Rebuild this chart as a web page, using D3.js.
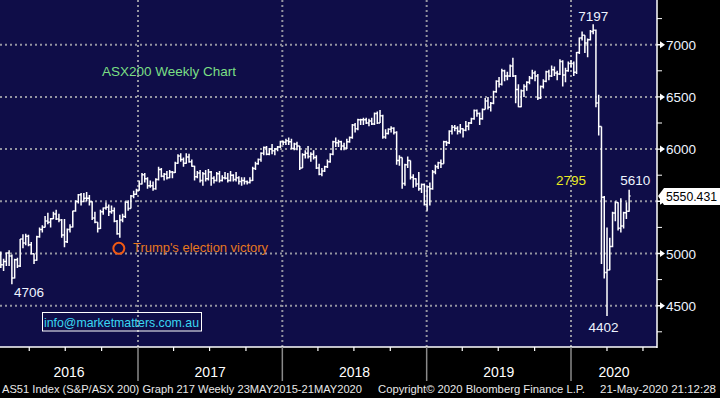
<!DOCTYPE html>
<html>
<head>
<meta charset="utf-8">
<script src="https://cdn.jsdelivr.net/npm/d3@7"></script>
<style>
body{margin:0;background:#000;}
svg{display:block;}
text{font-family:"Liberation Sans",Arial,sans-serif;}
</style>
</head>
<body>
<svg id="chart" width="720" height="398"></svg>
<script>
// weekly bars of AS51, week ending Fri 15 Jan 2016 .. Thu 21 May 2020
var firstWeek = new Date(Date.UTC(2016,0,15));
var lastWeek = new Date(Date.UTC(2020,4,22));

var opens = [
 4990,4892,4923,5005,4977,4765,4940,4880,5138,5101,5165,5085,4998,4935,5160,5231,5252,5311,5300,5332,5378,5331,5320,5177,5113,5230,5255,5407,5498,5562,5497,5530,5529,5496,5340,5300,5240,5400,5435,5444,5400,5410,5310,5190,5320,5354,5490,5432,5550,5567,5606,
 5665,5755,5715,5650,5650,5620,5710,5805,5740,5760,5725,5780,5775,5865,5935,5900,5865,5925,5880,5835,5735,5770,5700,5765,5715,5780,5720,5700,5765,5700,5725,5720,5700,5750,5710,5725,5690,5700,5690,5680,5700,5815,5860,5900,5960,6015,5950,6000,5985,6000,6020,6070,
 6065,6080,6070,6005,6050,6030,5820,5945,5960,5930,5950,5920,5820,5760,5790,5830,5880,5950,6070,6060,6070,6030,6010,6070,6110,6230,6195,6280,6280,6280,6250,6270,6240,6340,6250,6320,6115,6150,6190,6200,6160,5890,5920,5670,5850,5890,5730,5715,5665,5620,5660,5470,
 5640,5620,5780,5830,5870,5860,6070,6060,6170,6210,6200,6170,6195,6180,6220,6250,6290,6370,6340,6290,6380,6460,6400,6440,6550,6650,6620,6750,6700,6700,6795,6700,6570,6405,6560,6600,6640,6680,6730,6700,6490,6600,6650,6740,6700,6760,6730,6720,6840,6710,6750,6820,
 6820,6735,6925,7065,7090,7017,7048,7126,7139,6441,6217,5539,4817,4842,5068,5387,5488,5242,5264,5391,5405
];
var highs = [
 5020,4950,5010,5030,4990,4950,4960,5140,5185,5190,5180,5110,5000,5170,5250,5270,5360,5390,5340,5400,5420,5380,5330,5330,5240,5280,5410,5510,5570,5580,5580,5590,5560,5500,5400,5300,5420,5440,5490,5470,5460,5440,5320,5370,5380,5500,5510,5560,5600,5620,5700,
 5770,5770,5730,5700,5690,5720,5830,5820,5770,5790,5800,5790,5880,5950,5960,5920,5960,5955,5900,5840,5790,5800,5780,5800,5810,5790,5740,5780,5790,5750,5780,5770,5790,5760,5780,5740,5730,5730,5700,5730,5830,5880,5910,5970,6025,6030,6010,6050,6010,6030,6080,6080,
 6100,6110,6100,6060,6070,6030,5960,5990,6030,5970,5990,5940,5860,5820,5840,5900,5960,6080,6110,6090,6080,6060,6100,6120,6240,6250,6290,6290,6300,6300,6290,6300,6350,6360,6374,6330,6190,6200,6220,6210,6170,5940,5920,5860,5930,5890,5760,5720,5780,5670,5670,5650,
 5680,5800,5850,5880,5900,6080,6080,6180,6230,6230,6220,6240,6200,6270,6260,6300,6380,6380,6350,6390,6490,6500,6450,6560,6660,6690,6770,6760,6740,6810,6875,6710,6620,6570,6620,6650,6700,6760,6750,6720,6610,6670,6750,6760,6800,6790,6750,6860,6850,6780,6840,6850,
 6840,6930,7070,7127,7090,7060,7140,7197,7145,6520,6217,5550,5250,5150,5400,5500,5490,5530,5400,5490,5610
];
var lows = [
 4860,4832,4880,4880,4706,4760,4860,4870,5050,5080,5070,4990,4900,4930,5150,5200,5250,5280,5250,5330,5320,5300,5150,5060,5100,5200,5250,5400,5480,5460,5490,5500,5460,5320,5290,5200,5235,5370,5420,5360,5380,5300,5180,5150,5300,5340,5410,5430,5530,5560,5600,
 5660,5680,5620,5630,5600,5610,5700,5730,5700,5710,5720,5720,5770,5860,5880,5830,5860,5870,5830,5700,5720,5680,5650,5690,5700,5650,5670,5690,5680,5690,5710,5680,5690,5690,5690,5660,5650,5660,5660,5670,5695,5800,5850,5880,5940,5940,5940,5950,5940,5980,6010,6040,
 6040,6040,6000,5990,5990,5800,5820,5910,5910,5880,5900,5810,5750,5740,5780,5820,5870,5940,6020,6020,5990,5990,6000,6060,6100,6160,6180,6230,6230,6240,6220,6230,6230,6240,6250,6100,6100,6140,6160,6140,5850,5840,5620,5650,5820,5710,5630,5640,5600,5580,5460,5410,
 5460,5610,5760,5810,5820,5860,6030,6050,6140,6170,6140,6150,6110,6170,6180,6240,6280,6310,6230,6280,6380,6380,6360,6430,6540,6590,6610,6650,6660,6690,6690,6440,6400,6400,6500,6560,6620,6670,6650,6470,6480,6580,6640,6660,6690,6700,6660,6710,6600,6640,6740,6780,
 6700,6720,6910,7040,6920,6880,7040,7100,6400,6130,4900,4760,4402,4840,5060,5310,5220,5200,5240,5330,5400
];
var closes = [
 4892,4923,5005,4977,4765,4940,4880,5138,5101,5165,5085,4998,4935,5160,5231,5252,5311,5300,5332,5378,5331,5320,5177,5113,5230,5255,5407,5498,5562,5497,5530,5529,5496,5340,5300,5240,5400,5435,5444,5400,5410,5310,5190,5320,5354,5490,5432,5550,5567,5606,5665,
 5755,5715,5650,5650,5620,5710,5805,5740,5760,5725,5780,5775,5865,5935,5900,5865,5925,5880,5835,5735,5770,5700,5765,5715,5780,5720,5700,5765,5700,5725,5720,5700,5750,5710,5725,5690,5700,5690,5680,5700,5815,5860,5900,5960,6015,5950,6000,5985,6000,6020,6070,6065,
 6080,6070,6005,6050,6030,5820,5945,5960,5930,5950,5920,5820,5760,5790,5830,5880,5950,6070,6060,6070,6030,6010,6070,6110,6230,6195,6280,6280,6280,6250,6270,6240,6340,6250,6320,6115,6150,6190,6200,6160,5890,5920,5670,5850,5890,5730,5715,5665,5620,5660,5470,5640,
 5620,5780,5830,5870,5860,6070,6060,6170,6210,6200,6170,6195,6180,6220,6250,6290,6370,6340,6290,6380,6460,6400,6440,6550,6650,6620,6750,6700,6700,6795,6700,6570,6405,6560,6600,6640,6680,6730,6700,6490,6600,6650,6740,6700,6760,6730,6720,6840,6710,6750,6820,6820,
 6735,6925,7065,7090,7017,7048,7126,7139,6441,6217,5539,4817,4842,5068,5387,5488,5242,5264,5391,5405,5550
];

var yTicks = [4500,5000,5500,6000,6500,7000];
var yMinor = [4250,4750,5250,5750,6250,6750,7250];
var yearLabels = ['2016','2017','2018','2019','2020'];
var lastPrice = 5550.431;
var titleText = 'ASX200 Weekly Chart';
var eventText = "Trump's election victory";
var emailText = 'info@marketmatters.com.au';
var dropText = '2795';
var footer = ['AS51 Index (S&P/ASX 200) Graph 217  Weekly 23MAY2015-21MAY2020',
              'Copyright\u00a9 2020 Bloomberg Finance L.P.',
              '21-May-2020 21:12:28'];

var W = 657, H = 347;
var barShift = 2, tick = 1.4;

var svg = d3.select('#chart');
svg.append('rect').attr('width',720).attr('height',398).attr('fill','#000');
svg.append('rect').attr('width',W).attr('height',H).attr('fill','#0f0d48');

var x = d3.scaleUtc()
    .domain([new Date(Date.UTC(2017,0,1)), new Date(Date.UTC(2020,0,1))])
    .range([138,571]);
var y = d3.scaleLinear().domain([4500,7000]).range([305.7,44.7]);

var weeks = d3.utcFriday.range(firstWeek, d3.utcDay.offset(lastWeek,1));
var bars = weeks.map(function(d,i){
    return {date:d, o:opens[i], h:highs[i], l:lows[i], c:closes[i]};
});

svg.append('clipPath').attr('id','plotClip')
  .append('rect').attr('width',W).attr('height',H);

// grid
var grid = svg.append('g').attr('stroke','#9494a0').attr('stroke-width',2).attr('stroke-dasharray','2,3');
grid.selectAll('line.h').data(yTicks).enter().append('line')
    .attr('x1',0).attr('x2',W).attr('y1',function(d){return y(d);}).attr('y2',function(d){return y(d);});
var yearStarts = d3.utcYear.range(new Date(Date.UTC(2017,0,1)), new Date(Date.UTC(2020,1,1)));
grid.selectAll('line.v').data(yearStarts).enter().append('line')
    .attr('y1',0).attr('y2',H).attr('x1',function(d){return x(d);}).attr('x2',function(d){return x(d);});

// OHLC bars
svg.append('g').attr('clip-path','url(#plotClip)')
  .selectAll('path').data(bars).enter().append('path')
    .attr('fill','none').attr('stroke','#fff').attr('stroke-width',1.5)
    .attr('d', function(d){
        var bx = x(d.date) + barShift;
        return 'M'+bx+','+y(d.h)+'V'+y(d.l)
             +'M'+(bx-tick)+','+y(d.o)+'H'+bx
             +'M'+bx+','+y(d.c)+'H'+(bx+tick);
    });

// frame
svg.append('line').attr('x1',W).attr('x2',W).attr('y1',0).attr('y2',H+1).attr('stroke','#fff').attr('stroke-width',1.5);
svg.append('line').attr('x1',0).attr('x2',W).attr('y1',H).attr('y2',H).attr('stroke','#fff').attr('stroke-width',1.5);

// right axis
var ly = y(lastPrice);
var ra = svg.append('g');
ra.selectAll('line.mi').data(yMinor).enter().append('line')
    .attr('x1',W).attr('x2',W+5).attr('y1',function(d){return y(d);}).attr('y2',function(d){return y(d);})
    .attr('stroke','#fff').attr('stroke-width',1);
ra.selectAll('path.mk').data(yTicks).enter().append('path')
    .attr('fill','#fff')
    .attr('d',function(d){var t=y(d); return 'M'+W+','+(t-0.7)+'L'+(W+3)+','+(t-0.7)+'L'+(W+3)+','+(t-3.5)+'L'+(W+8)+','+t+'L'+(W+3)+','+(t+3.5)+'L'+(W+3)+','+(t+0.7)+'L'+W+','+(t+0.7)+'Z';});
// the label hidden under the last-price flag is left out
ra.selectAll('text').data(yTicks.filter(function(d){return Math.abs(y(d)-ly)>12;})).enter().append('text')
    .attr('x',666).attr('y',function(d){return y(d)+5;})
    .attr('fill','#eef4ff').attr('font-size',13.5)
    .text(function(d){return d;});

// last price flag
svg.append('path').attr('fill','#fff')
    .attr('d','M'+(W+1)+','+ly+'L'+(W+7)+','+(ly-8)+'L721,'+(ly-8)+'L721,'+(ly+9)+'L'+(W+7)+','+(ly+9)+'Z');
svg.append('text').attr('x',666).attr('y',ly+5).attr('fill','#000').attr('font-size',12.5)
    .attr('textLength',51).attr('lengthAdjust','spacingAndGlyphs')
    .text(d3.format('.3f')(lastPrice));

// bottom axis
var quarters = d3.utcMonth.every(3).range(new Date(Date.UTC(2016,0,1)), new Date(Date.UTC(2020,7,1)))
    .filter(function(d){return x(d)>0 && x(d)<W && d.getUTCMonth()!==0;});
svg.selectAll('line.q').data(quarters).enter().append('line')
    .attr('x1',function(d){return x(d);}).attr('x2',function(d){return x(d);})
    .attr('y1',H).attr('y2',H+4).attr('stroke','#fff').attr('stroke-width',1.2);
svg.selectAll('line.yr').data(yearStarts).enter().append('line')
    .attr('x1',function(d){return x(d);}).attr('x2',function(d){return x(d);})
    .attr('y1',H).attr('y2',381).attr('stroke','#8a8a8a').attr('stroke-width',1.5);
var bounds = [0].concat(yearStarts.map(function(d){return x(d);})).concat([W]);
svg.selectAll('text.yl').data(yearLabels).enter().append('text')
    .attr('x',function(d,i){return (bounds[i]+bounds[i+1])/2;}).attr('y',377)
    .attr('text-anchor','middle').attr('fill','#fff').attr('font-size',14)
    .text(function(d){return d;});

// footer
var fx = [[2,360],[378,207],[600,116]];
svg.selectAll('text.ft').data(footer).enter().append('text')
    .attr('x',function(d,i){return fx[i][0];}).attr('y',393)
    .attr('textLength',function(d,i){return fx[i][1];}).attr('lengthAdjust','spacingAndGlyphs')
    .attr('fill','#e8e8e8').attr('font-size',11.5)
    .text(function(d){return d;});

// annotations
var hiBar = bars.reduce(function(a,b){return b.h>a.h?b:a;});
var loBar = bars.slice(150).reduce(function(a,b){return b.l<a.l?b:a;});
var lo16 = bars.slice(0,30).reduce(function(a,b){return b.l<a.l?b:a;});
var trump = bars[43];
var lastBar = bars[bars.length-1];
function bx(b){return x(b.date)+barShift;}

svg.append('text').attr('x',102).attr('y',76).attr('fill','#7adf84').attr('font-size',13.5).text(titleText);
svg.append('text').attr('x',bx(hiBar)).attr('y',y(hiBar.h)-3).attr('text-anchor','middle')
    .attr('fill','#eef4ff').attr('font-size',13.5).text(hiBar.h);
svg.append('text').attr('x',bx(loBar)-3.5).attr('y',y(loBar.l)+16).attr('text-anchor','middle')
    .attr('fill','#eef4ff').attr('font-size',13.5).text(loBar.l);
svg.append('text').attr('x',bx(lo16)+2).attr('y',y(lo16.l)+13)
    .attr('fill','#eef4ff').attr('font-size',13.5).text(lo16.l);
svg.append('text').attr('x',bx(lastBar)+6).attr('y',y(lastBar.h)-5).attr('text-anchor','middle')
    .attr('fill','#eef4ff').attr('font-size',13.5).text(lastBar.h);
svg.append('text').attr('x',x(yearStarts[3])).attr('y',y(lastBar.h)-5).attr('text-anchor','middle')
    .attr('fill','#eaea22').attr('font-size',13.5).text(dropText);

svg.append('circle').attr('cx',bx(trump)-1).attr('cy',y(trump.l)+10.5).attr('r',5.5)
    .attr('fill','none').attr('stroke','#f05a14').attr('stroke-width',2);
svg.append('text').attr('x',133).attr('y',y(trump.l)+14).attr('textLength',135).attr('lengthAdjust','spacingAndGlyphs')
    .attr('fill','#e8781e').attr('font-size',13).text(eventText);

svg.append('rect').attr('x',42.5).attr('y',312.5).attr('width',159).attr('height',18.5)
    .attr('fill','none').attr('stroke','#fff').attr('stroke-width',1);
svg.append('text').attr('x',44).attr('y',327).attr('textLength',155).attr('lengthAdjust','spacingAndGlyphs')
    .attr('fill','#3ad8f2').attr('font-size',13.5).text(emailText);
</script>
</body>
</html>
